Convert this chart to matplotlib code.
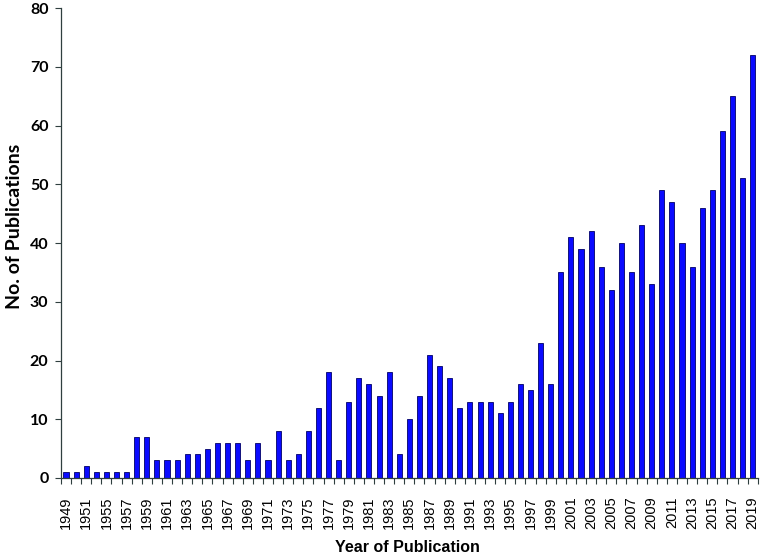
import matplotlib
matplotlib.use("Agg")
import matplotlib.pyplot as plt
import numpy as np

years = ["1949", "1950", "1951", "1954", "1955", "1956"] + [str(y) for y in range(1957, 2020)]
counts = [1, 1, 2, 1, 1, 1,
          1, 7, 7, 3, 3, 3, 4, 4, 5, 6,
          6, 6, 3, 6, 3, 8, 3, 4, 8, 12,
          18, 3, 13, 17, 16, 14, 18, 4, 10, 14,
          21, 19, 17, 12, 13, 13, 13, 11, 13, 16,
          15, 23, 16, 35, 41, 39, 42, 36, 32, 40,
          35, 43, 33, 49, 47, 40, 36, 46, 49, 59,
          65, 51, 72]
y_ticks = [0, 10, 20, 30, 40, 50, 60, 70, 80]

plt.rcParams['font.family'] = ['Liberation Sans', 'DejaVu Sans']

fig = plt.figure(figsize=(7.64, 5.58), dpi=100)
ax = fig.add_axes([0.0798, 0.1434, 0.912, 0.842])

x = np.arange(len(years))
ax.bar(x, counts, width=0.5, color='#0a0aff', edgecolor='#000066', linewidth=0.6)

ax.set_xlim(-0.5, len(years) - 0.5)
ax.set_ylim(0, 80)
ax.set_yticks(y_ticks)
ax.set_yticklabels([str(v) for v in y_ticks], fontsize=11.5, fontweight='bold',
                   family=['Lato', 'DejaVu Sans'])

ax.set_xticks(x[::2])
ax.set_xticklabels([years[i] for i in x[::2]], rotation=90, fontsize=10.5)
ax.set_xticks(np.arange(-0.5, len(years), 1.0), minor=True)
ax.tick_params(axis='x', which='major', length=0, pad=13)
ax.tick_params(axis='x', which='minor', length=4, width=0.8, color='#2f3f3f', direction='out')
ax.tick_params(axis='y', length=4, width=0.8, color='#2f3f3f', direction='out', pad=5)

for s in ['top', 'right']:
    ax.spines[s].set_visible(False)
for s in ['left', 'bottom']:
    ax.spines[s].set_color('#2f3f3f')
    ax.spines[s].set_linewidth(0.9)

fig.text(0.533, 0.018, 'Year of Publication', fontsize=11.5, fontweight='bold',
         ha='center', va='center')
fig.text(0.019, 0.595, 'No. of Publications', fontsize=14, fontweight='bold',
         ha='center', va='center', rotation=90, family=['Lato', 'DejaVu Sans'])

fig.savefig('out.png', dpi=100)
